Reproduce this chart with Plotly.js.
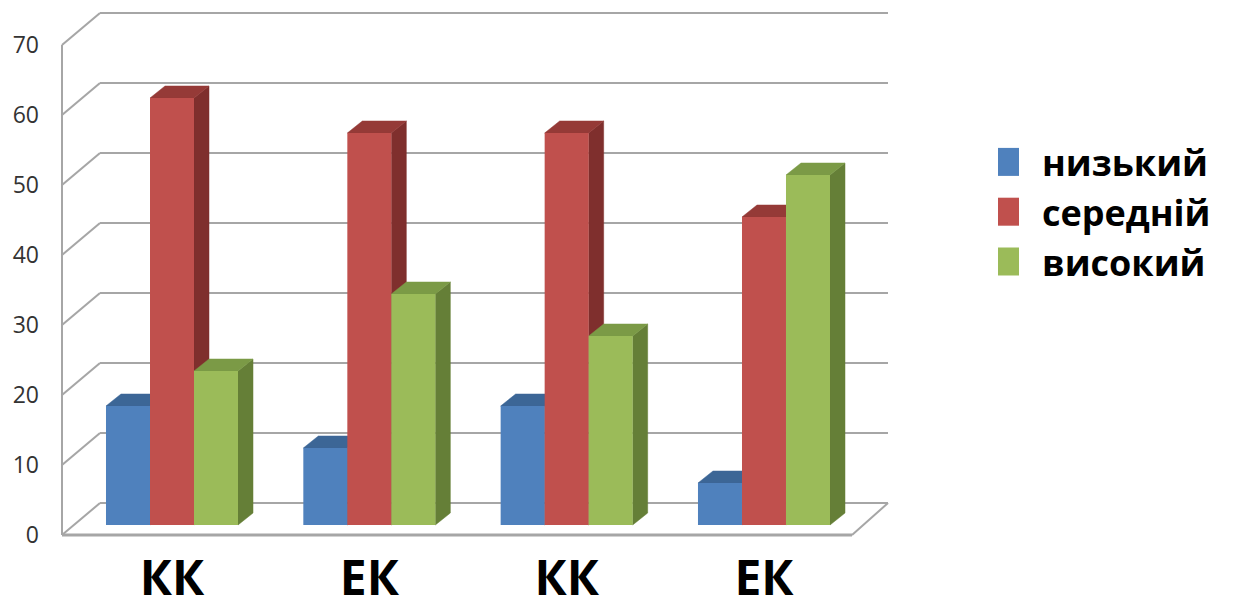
<!DOCTYPE html>
<html>
<head>
<meta charset="utf-8">
<script src="https://cdn.plot.ly/plotly-3.0.1.min.js"></script>
<style>
  html, body { margin: 0; padding: 0; background: #ffffff; }
  #chart { width: 1235px; height: 605px; }
</style>
</head>
<body>
<div id="chart"></div>
<script>
// ---- data ----
const categories = ['КК', 'ЕК', 'КК', 'ЕК'];
const seriesNames = ['низький', 'середній', 'високий'];
const lowValues = [17, 11, 17, 6];
const midValues = [61, 56, 56, 44];
const highValues = [22, 33, 27, 50];
const yTicks = [0, 10, 20, 30, 40, 50, 60, 70];

// ---- styles ----
const frontColors = ['#4f81bd', '#c0504d', '#9bbb59'];
const topColors = ['#3c6696', '#953a37', '#7b9a46'];
const sideColors = ['#365d8a', '#7f2f2d', '#657f37'];
const wallColor = '#a6a6a6';
const FONT = '"Open Sans", "Liberation Sans", sans-serif';

// ---- pseudo-3D geometry (pixels) ----
const W = 1235, H = 605;
const PLOT_LEFT = 100, PLOT_RIGHT = 888, PLOT_TOP = 0, PLOT_BOTTOM = 540;
const FIRST_GROUP = 172, GROUP_STEP = 197.33;
const PX_PER_UNIT = 7;
const BAR_ZERO = 525;     // baseline of the bar fronts
const WALL_ZERO = 503;    // baseline of the back wall
const FRONT_ZERO = 535;   // front edge of the floor
const FRONT_LEFT = 62;    // front edge of the side wall
const FLOOR_RIGHT = 852;  // front right corner of the floor
const DEPTH_X = 15, DEPTH_Y = 12;
const BARGAP = 0.331;

const px = x => x / W;
const py = y => 1 - y / H;
const xRange = [(PLOT_LEFT - FIRST_GROUP) / GROUP_STEP, (PLOT_RIGHT - FIRST_GROUP) / GROUP_STEP];
function yRange(zeroPx) {
  const lo = -(PLOT_BOTTOM - zeroPx) / PX_PER_UNIT;
  return [lo, lo + (PLOT_BOTTOM - PLOT_TOP) / PX_PER_UNIT];
}

const series = [lowValues, midValues, highValues];
const xPos = categories.map((c, i) => i);
const barW = (1 - BARGAP) / series.length;
const dx = DEPTH_X / GROUP_STEP;
const dy = DEPTH_Y / PX_PER_UNIT;

// side and top faces of every bar, behind the front faces
const sideTraces = [], topTraces = [];
series.forEach((vals, k) => {
  const sx = [], sy = [], tx = [], ty = [];
  vals.forEach((v, i) => {
    const l = xPos[i] - (series.length / 2) * barW + k * barW;
    const r = l + barW;
    sx.push(r, r + dx, r + dx, r, r, null);
    sy.push(0, dy, v + dy, v, 0, null);
    tx.push(l, l + dx, r + dx, r, l, null);
    ty.push(v, v + dy, v + dy, v, v, null);
  });
  const common = { type: 'scatter', mode: 'lines', xaxis: 'x2', yaxis: 'y2',
                   fill: 'toself', hoverinfo: 'skip', showlegend: false, connectgaps: false };
  sideTraces.push(Object.assign({}, common, { x: sx, y: sy, fillcolor: sideColors[k],
                   line: { width: 0.5, color: sideColors[k] } }));
  topTraces.push(Object.assign({}, common, { x: tx, y: ty, fillcolor: topColors[k],
                   line: { width: 0.5, color: topColors[k] } }));
});

const barTraces = series.map((vals, k) => ({
  type: 'bar', name: seriesNames[k], x: xPos, y: vals,
  xaxis: 'x3', yaxis: 'y3',
  marker: { color: frontColors[k], line: { width: 0 } },
  hoverinfo: 'name+y'
}));

// back-wall grid carrier (keeps the base subplot alive)
const gridTrace = { type: 'scatter', x: [null], y: [null], xaxis: 'x', yaxis: 'y',
                    showlegend: false, hoverinfo: 'skip' };

// side wall and floor outlines
const shapes = [];
const line = (x0, y0, x1, y1, w) => ({ type: 'line', xref: 'paper', yref: 'paper',
  x0: px(x0), y0: py(y0), x1: px(x1), y1: py(y1), line: { color: wallColor, width: w }, layer: 'below' });
const topTick = yTicks[yTicks.length - 1];
shapes.push(line(FRONT_LEFT, FRONT_ZERO - topTick * PX_PER_UNIT, FRONT_LEFT, FRONT_ZERO, 2));
yTicks.forEach(v => {
  shapes.push(line(FRONT_LEFT, FRONT_ZERO - v * PX_PER_UNIT, PLOT_LEFT, WALL_ZERO - v * PX_PER_UNIT, 2));
});
shapes.push(line(FRONT_LEFT, FRONT_ZERO, FLOOR_RIGHT, FRONT_ZERO, 3));
shapes.push(line(FLOOR_RIGHT, FRONT_ZERO, PLOT_RIGHT, WALL_ZERO, 2));

const hiddenX = { range: xRange, showgrid: false, zeroline: false, showticklabels: false,
                  ticks: '', overlaying: 'x', fixedrange: true };
const hiddenY = r => ({ range: r, showgrid: false, zeroline: false, showticklabels: false,
                  ticks: '', overlaying: 'y', fixedrange: true });

const layout = {
  width: W, height: H,
  margin: { l: 0, r: 0, t: 0, b: 0, pad: 0 },
  paper_bgcolor: '#ffffff', plot_bgcolor: 'rgba(0,0,0,0)',
  barmode: 'group', bargap: BARGAP, bargroupgap: 0,
  font: { family: FONT, color: '#000000' },
  xaxis: {
    domain: [px(PLOT_LEFT), px(PLOT_RIGHT)], range: xRange,
    tickvals: xPos, ticktext: categories, ticks: '',
    showgrid: false, zeroline: false, showline: false,
    tickfont: { family: FONT, size: 48, color: '#000000', weight: 'bold' },
    ticklabelstandoff: 6, fixedrange: true
  },
  yaxis: {
    domain: [py(PLOT_BOTTOM), py(PLOT_TOP)], range: yRange(WALL_ZERO),
    tickvals: yTicks, ticks: '',
    showgrid: true, gridcolor: wallColor, gridwidth: 2,
    zeroline: false, showline: false,
    tickfont: { family: FONT, size: 23, color: '#333333' },
    ticklabelshift: (FRONT_ZERO - WALL_ZERO),
    ticklabelstandoff: PLOT_LEFT - 40, fixedrange: true
  },
  xaxis2: hiddenX, yaxis2: hiddenY(yRange(BAR_ZERO)),
  xaxis3: hiddenX, yaxis3: hiddenY(yRange(BAR_ZERO)),
  showlegend: true,
  legend: {
    x: px(992), xanchor: 'left', y: py(132), yanchor: 'top',
    bgcolor: 'rgba(0,0,0,0)', borderwidth: 0,
    font: { family: FONT, size: 36, color: '#000000', weight: 'bold' },
    itemwidth: 40, tracegroupgap: 0
  },
  shapes: shapes
};

Plotly.newPlot('chart', [gridTrace, ...sideTraces, ...topTraces, ...barTraces], layout,
               { displayModeBar: false, staticPlot: true }).then(gd => {
  // taller legend swatches
  gd.querySelectorAll('.legend .legendpoints path').forEach(p => {
    p.setAttribute('d', 'M-19,-14H2V14H-19Z');
  });
});
</script>
</body>
</html>
